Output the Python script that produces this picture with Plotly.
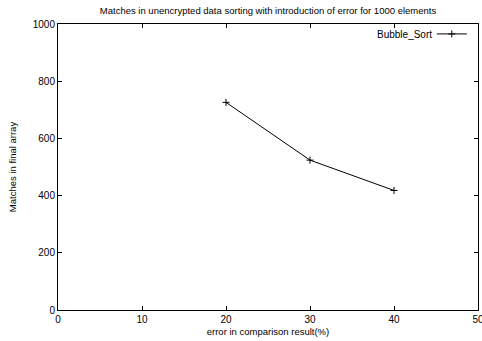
import plotly.graph_objects as go

error_pct = [20, 30, 40]
matches = [726, 524, 418]
series_name = "Bubble_Sort"
title_text = "Matches in unencrypted data sorting with introduction of error for 1000 elements"
x_title = "error in comparison result(%)"
y_title = "Matches in final array"
x_ticks = [0, 10, 20, 30, 40, 50]
y_ticks = [0, 200, 400, 600, 800, 1000]

FONT = "Liberation Sans, Arial, Helvetica, sans-serif"

fig = go.Figure()
fig.add_trace(go.Scatter(
    x=error_pct, y=matches, mode="lines+markers", name="",
    line=dict(color="black", width=1),
    marker=dict(symbol="cross-thin", size=5, line=dict(color="black", width=1), color="black"),
    showlegend=True,
))

fig.add_annotation(text=series_name, xref="paper", yref="paper", x=0.895, y=0.965,
                   xanchor="right", yanchor="middle", showarrow=False,
                   font=dict(family=FONT, size=10, color="black"))

axis_common = dict(showline=True, linecolor="black", linewidth=1, mirror="ticks",
                   ticks="inside", ticklen=4, tickcolor="black", tickwidth=1,
                   showgrid=False, zeroline=False, ticklabeloverflow="allow",
                   automargin=False,
                   tickfont=dict(family=FONT, size=10, color="black"))

fig.update_layout(
    width=482, height=341,
    margin=dict(l=58, r=4, t=24, b=31),
    paper_bgcolor="white", plot_bgcolor="white",
    title=dict(text=title_text, x=0.5, xref="paper", xanchor="center", y=0.97, yanchor="middle",
               font=dict(family=FONT, size=9.5, color="black")),
    xaxis=dict(range=[0, 50], tickvals=x_ticks,
               title=dict(text=x_title, font=dict(family=FONT, size=9.5, color="black"), standoff=4),
               **axis_common),
    yaxis=dict(range=[0, 1000], tickvals=y_ticks,
               title=dict(text=y_title, font=dict(family=FONT, size=9.5, color="black"), standoff=14),
               **axis_common),
    legend=dict(x=0.89, y=1.016, xanchor="left", yanchor="top", bgcolor="rgba(0,0,0,0)",
                font=dict(family=FONT, size=10), borderwidth=0),
)

fig.write_html("out.html", config={"displayModeBar": False},
               post_script="document.body.style.margin='0';document.body.style.overflow='hidden';")
